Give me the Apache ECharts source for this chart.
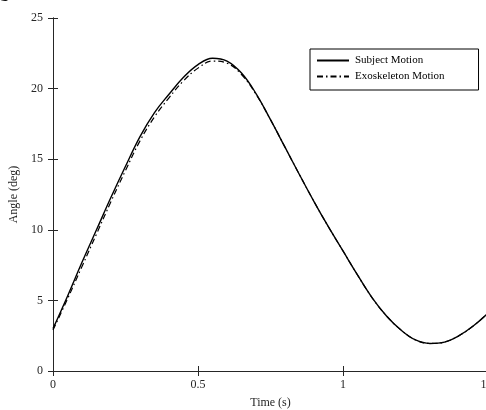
<!DOCTYPE html>
<html>
<head>
<meta charset="utf-8">
<script src="https://cdn.jsdelivr.net/npm/echarts@6/dist/echarts.min.js"></script>
<style>
html,body{margin:0;padding:0;background:#fff;overflow:hidden;width:486px;height:410px;}
#c{width:486px;height:410px;overflow:hidden;}
</style>
</head>
<body>
<div id="c"></div>
<script>
const timeS = [0,0.05,0.10,0.15,0.20,0.25,0.30,0.35,0.40,0.45,0.50,0.55,0.60,0.65,0.70,0.75,0.80,0.85,0.90,0.95,1.00,1.05,1.10,1.15,1.20,1.25,1.30,1.35,1.40,1.45,1.50];
const subjectMotion = [3.0,5.3,7.7,10.0,12.3,14.5,16.6,18.3,19.6,20.8,21.7,22.15,21.95,21.1,19.65,17.8,15.85,13.9,12.0,10.2,8.5,6.8,5.2,3.9,2.9,2.2,1.95,2.05,2.5,3.2,4.1];
const exoMotion = [2.9,5.1,7.4,9.7,12.0,14.2,16.3,18.0,19.35,20.55,21.45,21.95,21.8,21.0,19.6,17.8,15.85,13.9,12.0,10.2,8.5,6.8,5.2,3.9,2.9,2.2,1.95,2.05,2.5,3.2,4.1];
const seriesNames = ['Subject Motion','Exoskeleton Motion'];
const xTitle = 'Time (s)';
const yTitle = 'Angle (deg)';

const chart = echarts.init(document.getElementById('c'), null, {renderer:'canvas', width:486, height:410});
const font = 'Liberation Serif, Times New Roman, serif';
const axisLine = {lineStyle:{color:'#262626', width:1}};
const tick = {inside:true, length:5, lineStyle:{color:'#262626'}};
const lbl = {color:'#262626', fontFamily:font, fontSize:12};
chart.setOption({
  animation:false,
  grid:{left:53, top:18, width:435, height:353, containLabel:false, outerBoundsMode:'none'},
  legend:{
    data:seriesNames, orient:'vertical', left:310, top:49,
    itemWidth:32, itemHeight:10, itemGap:5, padding:[6,34,8,6],
    borderColor:'#000', borderWidth:1, backgroundColor:'#fff',
    itemStyle:{opacity:0},
    textStyle:{fontFamily:font, fontSize:11, color:'#000', padding:[0,0,0,1]}
  },
  xAxis:[{
    type:'value', min:0, max:1.5, interval:0.5, position:'bottom',
    axisLine:axisLine, axisTick:tick, splitLine:{show:false},
    axisLabel:Object.assign({margin:8, showMaxLabel:true}, lbl),
    name:xTitle, nameLocation:'middle', nameGap:26,
    nameTextStyle:{fontFamily:font, fontSize:12, color:'#262626'}
  },{
    type:'value', min:0, max:1.5, interval:0.5, position:'top',
    axisLine:axisLine, axisTick:tick, axisLabel:{show:false}, splitLine:{show:false}
  }],
  yAxis:[{
    type:'value', min:0, max:25, interval:5, position:'left',
    axisLine:axisLine, axisTick:tick, splitLine:{show:false},
    axisLabel:Object.assign({margin:10}, lbl),
    name:yTitle, nameLocation:'middle', nameGap:29,
    nameTextStyle:{fontFamily:font, fontSize:12, color:'#262626'}
  },{
    type:'value', min:0, max:25, interval:5, position:'right',
    axisLine:axisLine, axisTick:tick, axisLabel:{show:false}, splitLine:{show:false}
  }],
  series:[{
    name:seriesNames[0], type:'line', smooth:0.4, symbol:'none',
    data:timeS.map((t,i)=>[t,subjectMotion[i]]),
    lineStyle:{color:'#000', width:1.4, type:'solid'}, itemStyle:{color:'#000'}, z:3
  },{
    name:seriesNames[1], type:'line', smooth:0.4, symbol:'none',
    data:timeS.map((t,i)=>[t,exoMotion[i]]),
    lineStyle:{color:'#000', width:1.2, type:[6,3,1.5,3]}, itemStyle:{color:'#000'}, z:2
  }],
  graphic:[{
    type:'text', left:0, top:-13,
    style:{text:'b', font:'bold 18px Liberation Serif', fill:'#000'}
  }]
});
</script>
</body>
</html>
